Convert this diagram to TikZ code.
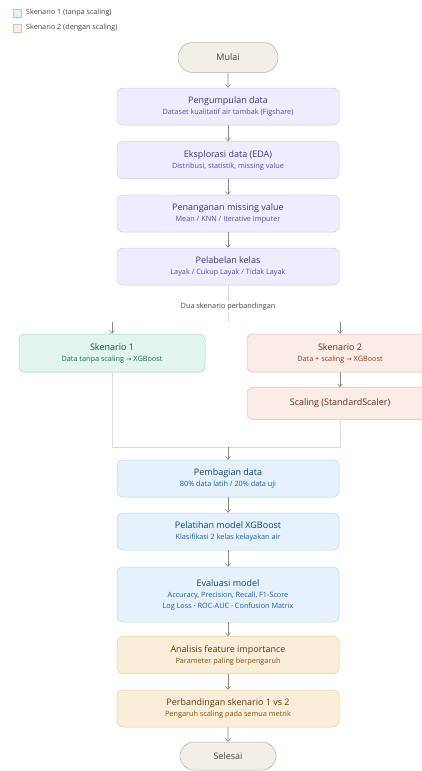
\documentclass[tikz,border=0pt]{standalone}
\usepackage{fontspec}
\setmainfont{Open Sans}
\newfontfamily\symf{DejaVu Sans}
\usetikzlibrary{arrows.meta,shapes.misc}
\definecolor{grayfill}{HTML}{F1EFE8}
\definecolor{grayline}{HTML}{B4B2A9}
\definecolor{graytext}{HTML}{444441}
\definecolor{purfill}{HTML}{EEEDFE}
\definecolor{purline}{HTML}{CECBF6}
\definecolor{purtext}{HTML}{3C3489}
\definecolor{pursub}{HTML}{534AB7}
\definecolor{tealfill}{HTML}{E1F5EE}
\definecolor{tealline}{HTML}{9FD8C2}
\definecolor{tealtext}{HTML}{085041}
\definecolor{tealsub}{HTML}{0F6E56}
\definecolor{corfill}{HTML}{FAECE7}
\definecolor{corline}{HTML}{F0B9A4}
\definecolor{cortext}{HTML}{712B13}
\definecolor{corsub}{HTML}{993C1D}
\definecolor{blufill}{HTML}{E6F1FB}
\definecolor{bluline}{HTML}{B5D4F4}
\definecolor{blutext}{HTML}{0C447C}
\definecolor{blusub}{HTML}{185FA5}
\definecolor{ambfill}{HTML}{FAEEDA}
\definecolor{ambline}{HTML}{F3CB8A}
\definecolor{ambtext}{HTML}{633806}
\definecolor{ambsub}{HTML}{854F0B}
\definecolor{arrowc}{HTML}{8A8880}
\definecolor{faintc}{HTML}{DEDCD6}
\newcommand\ttl[1]{{\fontsize{9}{12}\selectfont #1}}
\newcommand\sbt[1]{{\fontsize{7.3}{9.5}\selectfont #1}}
\newcommand\rarr{{\symf\fontsize{6.5}{9}\selectfont →}}
\tikzset{
  box/.style={rectangle, rounded corners=6pt, line width=0.5pt, align=center,
    minimum width=222pt, minimum height=37pt, inner sep=1pt},
  purbox/.style={box, fill=purfill, draw=purline, text=purtext},
  tealbox/.style={box, fill=tealfill, draw=tealline, text=tealtext, minimum width=186pt, minimum height=38pt},
  corbox/.style={box, fill=corfill, draw=corline, text=cortext, minimum width=186pt, minimum height=38pt},
  blubox/.style={box, fill=blufill, draw=bluline, text=blutext},
  ambbox/.style={box, fill=ambfill, draw=ambline, text=ambtext},
  term/.style={rounded rectangle, fill=grayfill, draw=grayline, line width=0.5pt,
    text=graytext, inner sep=1pt},
  arr/.style={-{Straight Barb[length=3pt,width=5pt]}, draw=arrowc, line width=0.6pt},
  faint/.style={draw=faintc, line width=0.6pt},
  faintarr/.style={-{Straight Barb[length=3pt,width=5pt]}, draw=faintc, line width=0.6pt},
  legsq/.style={rectangle, minimum size=7.5pt, inner sep=0pt, line width=0.5pt}
}
\begin{document}
\begin{tikzpicture}[x=1pt,y=-1pt]
\useasboundingbox (0,0) rectangle (422,771);
\clip (0,0) rectangle (422,771);
\fill[white] (0,0) rectangle (422,771);
% legend
\node[legsq, fill=tealfill, draw=tealline] (lg1) at (17,13) {};
\node[legsq, fill=corfill, draw=corline] (lg2) at (17,28) {};
\node[anchor=west, text=graytext, inner sep=0pt] (lt1) at (26,13) {\fontsize{7.2}{9}\selectfont Skenario 1 (tanpa scaling)};
\node[anchor=west, text=graytext, inner sep=0pt] (lt2) at (26,28) {\fontsize{7.2}{9}\selectfont Skenario 2 (dengan scaling)};
% nodes
\node[term, minimum width=102pt, minimum height=30pt] (mulai) at (228,57.5) {\ttl{Mulai}};
\node[purbox] (p1) at (228,106.5) {\ttl{Pengumpulan data}\\[-1pt]\color{pursub}\sbt{Dataset kualitatif air tambak (Figshare)}};
\node[purbox] (p2) at (228,160) {\ttl{Eksplorasi data (EDA)}\\[-1pt]\color{pursub}\sbt{Distribusi, statistik, missing value}};
\node[purbox] (p3) at (228,213.5) {\ttl{Penanganan missing value}\\[-1pt]\color{pursub}\sbt{Mean / KNN / Iterative Imputer}};
\node[purbox] (p4) at (228,266.5) {\ttl{Pelabelan kelas}\\[-1pt]\color{pursub}\sbt{Layak / Cukup Layak / Tidak Layak}};
\node[text=graytext, inner sep=2pt] (dua) at (228,307) {\fontsize{7.3}{9}\selectfont Dua skenario perbandingan};
\node[tealbox] (s1) at (112,353) {\ttl{Skenario 1}\\[-1pt]\color{tealsub}\sbt{Data tanpa scaling \rarr{} XGBoost}};
\node[corbox] (s2) at (340,353) {\ttl{Skenario 2}\\[-1pt]\color{corsub}\sbt{Data + scaling \rarr{} XGBoost}};
\node[corbox, minimum height=32pt] (sc) at (340,403.5) {\ttl{Scaling (StandardScaler)}};
\node[blubox] (b1) at (228,478.5) {\ttl{Pembagian data}\\[-1pt]\color{blusub}\sbt{80\% data latih / 20\% data uji}};
\node[blubox] (b2) at (228,531.5) {\ttl{Pelatihan model XGBoost}\\[-1pt]\color{blusub}\sbt{Klasifikasi 2 kelas kelayakan air}};
\node[blubox, minimum height=55pt] (b3) at (228,594.5) {\ttl{Evaluasi model}\\[-1pt]\color{blusub}\sbt{Accuracy, Precision, Recall, F1-Score}\\[-1pt]\color{blusub}\sbt{Log Loss · ROC-AUC · Confusion Matrix}};
\node[ambbox] (a1) at (228,655) {\ttl{Analisis feature importance}\\[-1pt]\color{ambsub}\sbt{Parameter paling berpengaruh}};
\node[ambbox] (a2) at (228,708.5) {\ttl{Perbandingan skenario 1 vs 2}\\[-1pt]\color{ambsub}\sbt{Pengaruh scaling pada semua metrik}};
\node[term, minimum width=98pt, minimum height=28pt] (selesai) at (228,756) {\ttl{Selesai}};
% helper coordinates
\coordinate (split) at (228,322);
\coordinate (l1) at (112,322);
\coordinate (r1) at (340,322);
\coordinate (jl) at (112,447);
\coordinate (jr) at (340,447);
\coordinate (jm) at (228,447);
% connectors
\draw[arr] (mulai) -- (p1);
\draw[arr] (p1) -- (p2);
\draw[arr] (p2) -- (p3);
\draw[arr] (p3) -- (p4);
\draw[faintarr] (p4) -- (dua);
\draw[faint] (dua) -- (split);
\draw[arr] (l1) -- (s1);
\draw[arr] (r1) -- (s2);
\draw[arr] (s2) -- (sc);
\draw[faint] (s1) -- (jl) -- (jr) -- (sc);
\draw[arr] (jm) -- (b1);
\draw[arr] (b1) -- (b2);
\draw[arr] (b2) -- (b3);
\draw[arr] (b3) -- (a1);
\draw[arr] (a1) -- (a2);
\draw[arr] (a2) -- (selesai);
\end{tikzpicture}
\end{document}
